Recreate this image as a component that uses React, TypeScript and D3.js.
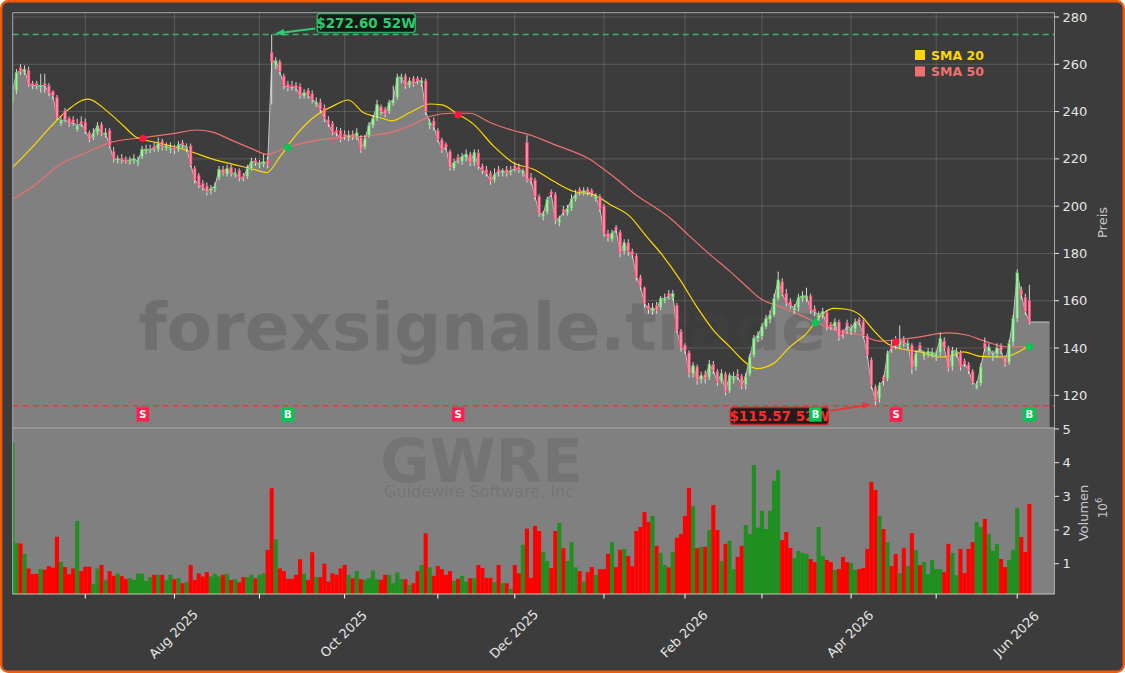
import React from 'react';
import * as d3 from 'd3';

// ---------- DATA ----------
const FIRST_DAY = '2025-06-04';
const HOLIDAYS = ['2025-06-19','2025-07-04','2025-09-01','2025-11-27','2025-12-25','2026-01-01','2026-01-19','2026-02-16','2026-04-03','2026-05-25'];

const openP = [
244,249,258.5,256.5,257.5,252,251.8,250.3,251.8,251,
248.5,246,235,240.3,237,236.5,232.5,235.8,235.5,231,
229,231,234.5,230,232,223,219.3,220.3,219.8,218.8,
219.2,218.3,221,223.3,223.5,225.2,224,227.5,224.5,223.8,
225,224,226.8,224.3,225.5,216,213,209.5,208.5,206.5,
207.5,212,215.5,213.5,216.5,213.3,215,212.8,212.5,216,
219.3,217.3,217.8,219.5,265,259.5,261,255,251.5,251,
251,250.5,246.5,249,247.5,243,244,241.5,236.5,235,
232,232,230.5,229,230.5,229.5,229,225,230,234,
237,242,241,240,243.5,246,253.5,255,251,254,
254,252,253,234,236,232,228,226,223,216,
220.5,219,220.5,222,218.5,222.5,217,215.5,214,211,
215.5,214,215.5,214.3,217,216.5,214,227,212,211,
204,195.5,197.5,206,205,193,198.5,197,199,203,
207,205.5,207,206.5,203,204,200,188.5,186,191,
189,181,184.5,181,179,170,165.5,158,155.5,158,
157,160,163,161.5,158,147,141,138,129,132,
126.5,129,127.5,133,130,126,129,122,126.5,129,
128,124.5,129,137,144,145,149,152,154,161,
168,163,159.5,156,157,161,161,162,156.5,152.5,
154,155,150,149,151,147.5,150.5,147,148,152,
151,145,135,123.5,118.5,127.5,127,141,142,141,
143.5,141,141,132,141,136.5,137.5,137,136.5,138,
143,140,132,137.5,138,134.5,133,130,123,125,
142,138.5,136,137.5,141,136,134,142.5,152.5,164.5,
161.5,160];

const highP = [
250,258,260,259.5,259,253,253,256,256,252,
249,247,238,241.5,238,238,237,238,237,232,
233,235.5,235.5,233,233,225,221.5,222,221,221,
222,221,225.5,226,226,227,229,228.5,227,227,
226,227.5,228,226.5,226.5,217,214,211,210,209,
210,217,217,217.5,217.5,216,216,214,217.5,220.5,
220.5,219.5,222,221,272.6,263,262,256,253,253,
252.5,252,249.5,250,249,246,245.5,243,238,236,
233.5,233,232,232,232,233,230,230,235.5,238.5,
245,243,242,245,251,256,256,256,254.5,255,
255,254.5,254,237,237.5,233,229,227,224,220,
222,222.5,224,223,224,224,218,217,215,216,
217,216,217,217,218.5,218,216,230,214,212,
205,198,204,207,206,196,200,200.5,205,207,
208,208,208,207.5,205.5,205,201,190,190,192,
190,186,186,182,180,171,166,159,159,159.5,
162,163,164.5,164.5,159,148,142,139,134,133,
130,130.5,135,134.5,131,131,130,129.5,130,131,
129,129.5,137.5,145.5,147,150.5,154,156,163,172.3,
169.5,165,161,158.5,163,164,165.5,163,158,155.5,
157,156,151,152.5,152,148,152,150,152.5,153,
152,146,136,124.5,125.5,128.5,139,143.5,145,149.5,
145,143.5,142,139,142.5,139,140,140,139,146.5,
144.5,141,140.5,140,139,135.5,134,131,126,133.5,
144.5,142,139,142,142,137,143.5,154,173.2,166,
163,166.7];

const lowP = [
242,247.5,255.5,255.5,250.5,249.5,249.5,248,248,246.5,
245,236.5,234,235.5,233.5,234,231.5,233.5,230.5,227,
228,230,229.5,229,224.5,218.5,218,218,218,217.5,
218,217,220,222,222.5,223,223,223.5,223.5,222.5,
222,223,224.5,223,216.5,209.5,207.5,206.5,204.5,205,
206,211,213,212.5,212.5,212,210.5,210.5,211.5,215,
217,216,216.5,216,243,258,255.5,249.5,248.5,249,
248.5,245.5,245.5,245.5,243.5,242,239.5,235.5,233.5,230,
229.5,227,228,227.5,228,228,222.5,224,229,233,
236,238.5,237.5,239,242.5,245,252,249.5,250,250.5,
251.5,250.5,238.5,232.5,232,227,222.5,223.5,215,215,
218,217.5,219,217,217,215.5,213.5,212.5,209,210,
212.5,212.5,212.5,213,214.5,214,212.5,210,209,202.5,
195.5,194,196.5,204,192.5,191.5,196,196,198,202,
204.5,204.5,204.5,204,202,197.5,187,185,185,188.5,
178.5,179.5,179,178,168.5,164.5,157,154.5,154,154.5,
156,159,160.5,160,146.5,138.5,137.5,127.5,127.5,124.5,
125,125,126.5,129,124,125,120,121,125,126.5,
122.5,122.5,128,136,142.5,143.5,148,150.5,153,160,
162,157.5,156.5,154.5,155.5,159.5,159.5,154.5,153.5,151,
152.5,147.5,147.5,147.5,143,144,146,145.5,146.5,149.5,
144,135.5,122.5,115.57,117,124,126,138,139.5,139.5,
140.5,139.5,129,130.5,138.5,135,136,136,134.5,136.5,
139,130,130.5,136,130.5,132,129,124.5,122.5,124,
138.5,137,134.5,136,137.5,132,133,141,151,160.5,
154,150];

const closeP = [
248,256.6,257,258,251.6,251,251,251,251,248,
246.7,237.6,236,236.8,235,235.5,234,235,232,228.3,
231,234,230.5,231,225.5,220,220,219.5,219,219.5,
220,219,224,224,224,224.5,226.6,225,225.5,224.5,
224,226,226,225,217.7,211.3,209,208,206,207.5,
208.5,215.5,214,216,214,214,212,212,216,219,
218.5,218,219,217.5,261,261.5,257,251,250,250.5,
250,246.7,248,247,245,244,241,237,235,231,
231,228.3,229.5,230,229.5,231,224,228.5,234,237,
243,240,239,243.8,245,254.5,254.5,251,253,251.7,
253,253,240,235.5,233.8,228.3,224,225,216.4,218.5,
219.5,221,222,218.5,222.7,217,215,214,210.6,213.5,
214.5,215,214,215,216,215.5,215,211.3,211,204,
197,196.7,202.8,205,194.3,195,197.5,199,203,205,
206,206.5,206,205.5,204,199,188.6,186.7,188.6,190,
180.3,184.6,180.9,179.4,170.2,166,159,156.2,157,156,
161,161,162,163,147.6,140.4,139.1,129.3,132.7,126.4,
128.5,127,133.2,130.6,125.6,129.3,121.4,128.5,127.7,128,
124,128,136.3,144,145.4,149,152.5,154,161,168.8,
163.2,159,158.2,157,161.3,162,162,156,155.4,154,
155.4,149,149,151,144.7,146,149.6,148,151,151,
145.4,137,124.3,117.9,124.3,126.4,137.8,139.8,141,143.4,
142,142,131.5,137.8,140,137.5,138.5,138,137.7,144,
140,131.5,139,138.6,132,133.5,130.6,125.6,124.3,132,
140,140.4,137,140,139,133.5,142,152.6,171.8,162.5,
155.4,151];

// volume in millions
const volumeM = [
4.59,1.61,1.6,1.29,0.86,0.69,0.7,0.84,0.82,0.93,
0.88,1.8,1.05,0.9,0.69,0.86,2.27,0.78,0.91,0.91,
0.4,0.86,0.96,0.52,0.78,0.64,0.7,0.63,0.55,0.57,
0.52,0.71,0.7,0.49,0.6,0.67,0.67,0.67,0.52,0.67,
0.54,0.57,0.42,0.45,0.96,0.52,0.71,0.62,0.75,0.62,
0.7,0.62,0.67,0.7,0.52,0.54,0.45,0.6,0.6,0.67,
0.57,0.67,0.71,1.41,3.24,1.72,0.86,0.78,0.55,0.55,
0.67,1.13,0.7,0.52,1.34,0.6,0.6,1.0,0.47,0.71,
0.67,0.86,0.96,0.67,0.57,0.78,0.54,0.52,0.57,0.8,
0.54,0.52,0.67,0.67,0.42,0.74,0.54,0.54,0.37,0.42,
0.78,0.96,1.9,0.89,0.64,0.93,0.84,0.67,0.78,0.49,
0.55,0.64,0.47,0.57,0.57,0.96,0.87,0.58,0.58,0.45,
0.96,0.42,0.42,0.25,0.96,0.71,1.56,2.04,0.58,2.12,
1.97,1.35,1.08,0.87,1.97,2.21,1.46,1.08,1.64,0.89,
0.78,0.46,0.75,0.9,0.67,0.84,0.84,1.29,1.64,0.9,
1.41,1.44,1.23,0.93,1.97,2.09,2.53,2.24,2.42,1.53,
1.32,0.96,0.89,1.35,1.77,1.88,2.42,3.25,2.71,1.46,
1.5,1.5,2.0,2.74,2.0,1.08,1.59,1.68,0.84,1.2,
1.53,2.15,1.88,3.93,2.07,2.57,2.03,2.57,3.46,3.78,
1.7,1.94,1.47,1.17,1.38,1.32,1.29,1.14,1.05,2.09,
1.23,1.11,1.05,0.81,0.84,1.2,1.05,1.02,0.81,0.84,
0.87,1.44,3.43,3.19,2.42,2.03,1.64,0.93,1.29,0.72,
1.47,0.93,1.91,1.41,0.96,1.05,0.69,1.11,0.84,0.84,
0.75,1.59,1.32,0.66,1.44,0.72,1.44,1.64,2.24,2.09,
2.33,1.88,1.38,1.59,1.14,0.9,1.11,1.41,2.65,1.79,
1.35,2.77];

// moving averages, read at points along the curves (bar index, price)
const sma20Idx = [0,5.2,9.3,13.4,18.7,23.3,27.4,30.7,35.6,40.6,44.7,49.6,54.5,59.5,62.8,66,69.3,74.3,79.2,82.9,86.6,90.7,93.6,98.1,103.1,106,110,113.8,118.7,123.6,128.6,133.5,138.4,143.4,147.5,152.4,156.5,160.7,164.8,168.9,173,177.1,180.5,183.7,187.8,191.9,196,199.3,202.6,205.9,209.2,212.5,215.8,219.1,224,228.9,232.2,234.7,238.8,245.4,247.5,251];
const sma20Val = [216.3,225.5,233.3,240.3,245.3,240.3,234,229,226.9,224.8,222.7,219.8,217.7,215.6,214.2,220.8,228.6,237.5,242.4,244.9,239.6,237.5,236.1,239.6,243.2,242.8,238.9,234.7,225.5,218.4,215.6,210.6,206.3,204.9,200.7,195.7,187.2,178.7,168.8,157.5,147.6,140.5,134.5,131.3,133.4,140.5,146.2,153.3,156.8,156.4,154,147.6,142,139.8,138.4,136.2,137,138.4,136.5,136.2,137.7,141];
const sma50Idx = [0,5.2,11.8,18.3,24.1,32.3,39.7,45.5,49.2,54.5,59.5,62.8,67.7,74.3,80.9,85.8,90.7,93.2,98.1,103.1,108,112.9,117.9,123.6,126.9,134.3,142.5,145.8,149.1,154.1,159,162.3,167.2,172.2,177.1,181.2,184.5,189.4,194.4,199.3,204.3,209.2,214.1,217.4,224,230.6,235.5,240.5,245.4,251];
const sma50Val = [202.8,208.5,217.7,222.7,226.9,229,230.7,232.2,231.4,227.6,224,221.9,224.8,227.6,229,229.4,230.4,231.1,234,238,239.3,239.3,235.4,232,230.6,225.7,219.8,215.8,211.5,204.5,199,195,187.2,179.5,172.4,166,161,157.5,154,150.1,146.9,145.5,142.9,143.3,144.7,146.4,145.5,142.6,140.5,140.5];

// SMA crossovers: bar index, price, signal
const crossIdx = [32.2, 68, 110, 198.2, 218.1, 251];
const crossVal = [228.6, 224.8, 238.6, 150.7, 142.6, 140.5];
const crossSig = ['S', 'B', 'S', 'B', 'S', 'B'];

const HIGH_52W = 272.6, HIGH_IDX = 64;
const LOW_52W = 115.57, LOW_IDX = 213;
const AREA_END_IDX = 256;

const priceTicks = [120, 140, 160, 180, 200, 220, 240, 260, 280];
const volTicks = [1, 2, 3, 4, 5];

// ---------- LAYOUT ----------
const W = 1125, H = 673;
const PL = 12.7, PR = 1054.5, PT = 12.7, PB = 428, VT = 427.3, VB = 594;
const FONT = "'DejaVu Sans', sans-serif";
const BG = '#3c3c3c';

function tradingDays(n) {
  const out = [];
  const d = new Date(FIRST_DAY + 'T12:00:00Z');
  while (out.length < n) {
    const dow = d.getUTCDay();
    const iso = d.toISOString().slice(0, 10);
    if (dow !== 0 && dow !== 6 && !HOLIDAYS.includes(iso)) out.push(new Date(d.getTime()));
    d.setUTCDate(d.getUTCDate() + 1);
  }
  return out;
}

function arrowHead(x1, y1, x2, y2, len, wid) {
  const a = Math.atan2(y2 - y1, x2 - x1);
  const bx = x2 - len * Math.cos(a), by = y2 - len * Math.sin(a);
  const px = -Math.sin(a) * wid / 2, py = Math.cos(a) * wid / 2;
  return `M${x2},${y2}L${bx + px},${by + py}L${bx - px},${by - py}Z`;
}

export default function App() {
  const n = closeP.length;
  const dates = tradingDays(n);
  const x = d3.scaleLinear().domain([0.08, 257.2]).range([PL, PR]);
  const yP = d3.scaleLinear().domain([106.17, 281.82]).range([PB, PT]);
  const yV = d3.scaleLinear().domain([0.1, 5.05]).range([VB, VT]);

  const monthTicks = [];
  for (let i = 1; i < n; i++) {
    if (dates[i].getUTCMonth() !== dates[i - 1].getUTCMonth()) {
      const m = dates[i].getUTCMonth();
      monthTicks.push({ i, label: m % 2 === 1 ? d3.utcFormat('%b %Y')(dates[i]) : '' });
    }
  }

  const areaPts = closeP.map((c, i) => [i, c]).concat([[AREA_END_IDX, closeP[n - 1]]]);
  const areaGen = d3.area().x(d => x(d[0])).y0(PB).y1(d => yP(d[1]));
  const edgeGen = d3.line().x(d => x(d[0])).y(d => yP(d[1]));
  const smaGen = d3.line().x(d => x(d[0])).y(d => yP(d[1])).curve(d3.curveMonotoneX);
  const sma20 = sma20Idx.map((v, k) => [v, sma20Val[k]]);
  const sma50 = sma50Idx.map((v, k) => [v, sma50Val[k]]);

  const hx = x(HIGH_IDX), hy = yP(HIGH_52W);
  const lx = x(LOW_IDX), ly = yP(LOW_52W);
  const hA = { x1: hx + 43.5, y1: hy - 6, x2: hx + 3.5, y2: hy - 1 };
  const lA = { x1: lx - 45, y1: ly + 5, x2: lx - 4, y2: ly - 1.4 };
  const bw = 2.6;

  return (
    <svg width={W} height={H} style={{ position: 'absolute', left: 0, top: 0, display: 'block' }} fontFamily={FONT}>
      <defs>
        <clipPath id="pclip"><rect x={PL} y={PT} width={PR - PL} height={PB - PT} /></clipPath>
        <clipPath id="vclip"><rect x={PL} y={VT} width={PR - PL} height={VB - VT} /></clipPath>
      </defs>
      <rect x={1.2} y={1.2} width={W - 2.4} height={H - 2.4} rx={7} fill={BG} stroke="#f25a0a" strokeWidth={2.4} />

      {/* price panel */}
      <g>
        {monthTicks.map(t => (
          <line key={'gv' + t.i} x1={x(t.i)} x2={x(t.i)} y1={PT} y2={PB} stroke="#ffffff" strokeOpacity={0.16} strokeWidth={1} />
        ))}
        {priceTicks.map(p => (
          <line key={'gh' + p} x1={PL} x2={PR} y1={yP(p)} y2={yP(p)} stroke="#ffffff" strokeOpacity={0.16} strokeWidth={1} />
        ))}
      </g>
      <g clipPath="url(#pclip)">
        <path d={areaGen(areaPts)} fill="#808080" />
        <path d={edgeGen(areaPts)} fill="none" stroke="#c4c4c4" strokeWidth={1} />
        <text x={482} y={350} textAnchor="middle" fontSize={66} fontWeight="bold" fill="#4a4a4a" fillOpacity={0.3}>forexsignale.trade</text>
        <line x1={PL} x2={PR} y1={hy} y2={hy} stroke="#3cb46e" strokeWidth={1.5} strokeDasharray="6,4" />
        <line x1={PL} x2={PR} y1={ly} y2={ly} stroke="#e23b3b" strokeWidth={1.5} strokeDasharray="6,4" />
        <path d={smaGen(sma50)} fill="none" stroke="#f07070" strokeWidth={1.2} />
        <path d={smaGen(sma20)} fill="none" stroke="#ffd700" strokeWidth={1.2} />
        {closeP.map((c, i) => {
          const o = openP[i];
          const up = c >= o;
          const top = yP(Math.max(o, c)), bot = yP(Math.min(o, c));
          return (
            <g key={'c' + i}>
              <line x1={x(i)} x2={x(i)} y1={yP(highP[i])} y2={yP(lowP[i])} stroke="#e8e8e8" strokeWidth={0.9} />
              <rect x={x(i) - bw / 2} y={top} width={bw} height={Math.max(0.9, bot - top)}
                fill={up ? '#a6eea6' : '#ff8aa5'} stroke={up ? '#4fbf4f' : '#ff3b68'} strokeWidth={0.6} />
            </g>
          );
        })}
        {crossIdx.map((ci, k) => (
          <circle key={'x' + k} cx={x(ci)} cy={yP(crossVal[k])} r={3.6} fill={crossSig[k] === 'B' ? '#00c853' : '#ff1744'} />
        ))}
      </g>

      {/* 52W annotations */}
      <g>
        <line x1={hA.x1} y1={hA.y1} x2={hA.x2 + 6} y2={hA.y2 - 0.75} stroke="#2ecc71" strokeWidth={2} />
        <path d={arrowHead(hA.x1, hA.y1, hA.x2, hA.y2, 9, 7)} fill="#2ecc71" />
        <rect x={hx + 45.5} y={hy - 21} width={98} height={19} rx={3} fill="#101810" fillOpacity={0.92} stroke="#27ae60" strokeWidth={1.5} />
        <text x={hx + 94.5} y={hy - 6.6} textAnchor="middle" fontSize={13.5} fontWeight="bold" fill="#2ecc71">{'$' + HIGH_52W.toFixed(2) + ' 52W'}</text>

        <line x1={lA.x1} y1={lA.y1} x2={lA.x2 - 6} y2={lA.y2 + 1} stroke="#e53935" strokeWidth={2} />
        <path d={arrowHead(lA.x1, lA.y1, lA.x2, lA.y2, 9, 7)} fill="#e53935" />
        <rect x={lx - 145} y={ly + 1.8} width={98} height={17} rx={3} fill="#1c1414" fillOpacity={0.92} stroke="#c62828" strokeWidth={1.5} />
        <text x={lx - 96} y={ly + 15.2} textAnchor="middle" fontSize={13.5} fontWeight="bold" fill="#ff2a2a">{'$' + LOW_52W.toFixed(2) + ' 52W'}</text>
      </g>

      {/* buy / sell markers */}
      {crossIdx.map((ci, k) => (
        <g key={'m' + k}>
          <rect x={x(ci) - 6.3} y={407.3} width={12.6} height={14.4} fill={crossSig[k] === 'B' ? '#00c853' : '#ff1f4f'} />
          <text x={x(ci)} y={418.3} textAnchor="middle" fontSize={10} fontWeight="bold" fill="#ffffff">{crossSig[k]}</text>
        </g>
      ))}

      {/* legend */}
      <g fontSize={12.5} fontWeight="bold">
        <rect x={915} y={50} width={10} height={10} fill="#ffd700" />
        <text x={931} y={59.5} fill="#ffd700">SMA 20</text>
        <rect x={915} y={66.5} width={10} height={10} fill="#f07070" />
        <text x={931} y={76} fill="#f07070">SMA 50</text>
      </g>

      {/* volume panel */}
      <rect x={PL} y={VT} width={PR - PL} height={VB - VT} fill="#808080" />
      <text x={481.5} y={482} textAnchor="middle" fontSize={60} fontWeight="bold" fill="#4a4a4a" fillOpacity={0.22}>GWRE</text>
      <text x={479} y={497} textAnchor="middle" fontSize={16} fill="#4a4a4a" fillOpacity={0.22}>Guidewire Software, Inc</text>
      <g clipPath="url(#vclip)">
        {volumeM.map((v, i) => (
          <rect key={'v' + i} x={x(i) - 2.05} y={yV(v)} width={4.1} height={VB - yV(v)}
            fill={closeP[i] >= openP[i] ? '#1f8f1f' : '#ff0000'} />
        ))}
      </g>

      {/* frames */}
      <line x1={PL} x2={PR} y1={PT} y2={PT} stroke="#a8a8a8" strokeWidth={1} />
      <line x1={PL} x2={PL} y1={PT} y2={VB} stroke="#a8a8a8" strokeWidth={1} />
      <line x1={PR} x2={PR} y1={PT} y2={VB} stroke="#a8a8a8" strokeWidth={1} />
      <line x1={PL} x2={PR} y1={PB} y2={PB} stroke="#a8a8a8" strokeWidth={1} />
      <line x1={PL} x2={PR} y1={VB} y2={VB} stroke="#c8c8c8" strokeWidth={1} />

      {/* right axes */}
      <g fontSize={13} fill="#e6e6e6">
        {priceTicks.map(p => (
          <g key={'pt' + p}>
            <line x1={PR} x2={PR + 4.5} y1={yP(p)} y2={yP(p)} stroke="#e6e6e6" strokeWidth={1} />
            <text x={PR + 8} y={yP(p)} dy="0.35em">{p}</text>
          </g>
        ))}
        {volTicks.map(v => (
          <g key={'vt' + v}>
            <line x1={PR} x2={PR + 4.5} y1={yV(v)} y2={yV(v)} stroke="#e6e6e6" strokeWidth={1} />
            <text x={PR + 8} y={yV(v)} dy="0.35em">{v}</text>
          </g>
        ))}
      </g>
      <text transform="translate(1102.5,222.5) rotate(-90)" textAnchor="middle" dy="0.35em" fontSize={13} fill="#c8c8c8">Preis</text>
      <text transform="translate(1083.3,513) rotate(-90)" textAnchor="middle" dy="0.35em" fontSize={13} fill="#c8c8c8">Volumen</text>
      <text transform="translate(1103,508) rotate(-90)" textAnchor="middle" dy="0.35em" fontSize={12} fill="#c8c8c8">10<tspan dy="-5" fontSize={8.5}>6</tspan></text>

      {/* x axis */}
      <g>
        {monthTicks.map(t => (
          <g key={'xt' + t.i}>
            <line x1={x(t.i)} x2={x(t.i)} y1={VB} y2={VB + 4.5} stroke="#ffffff" strokeWidth={1} />
            {t.label ? (
              <text transform={`translate(${x(t.i) - 1},634) rotate(-45)`} textAnchor="middle" dy="0.35em" fontSize={13} fill="#e6e6e6">{t.label}</text>
            ) : null}
          </g>
        ))}
      </g>
    </svg>
  );
}
